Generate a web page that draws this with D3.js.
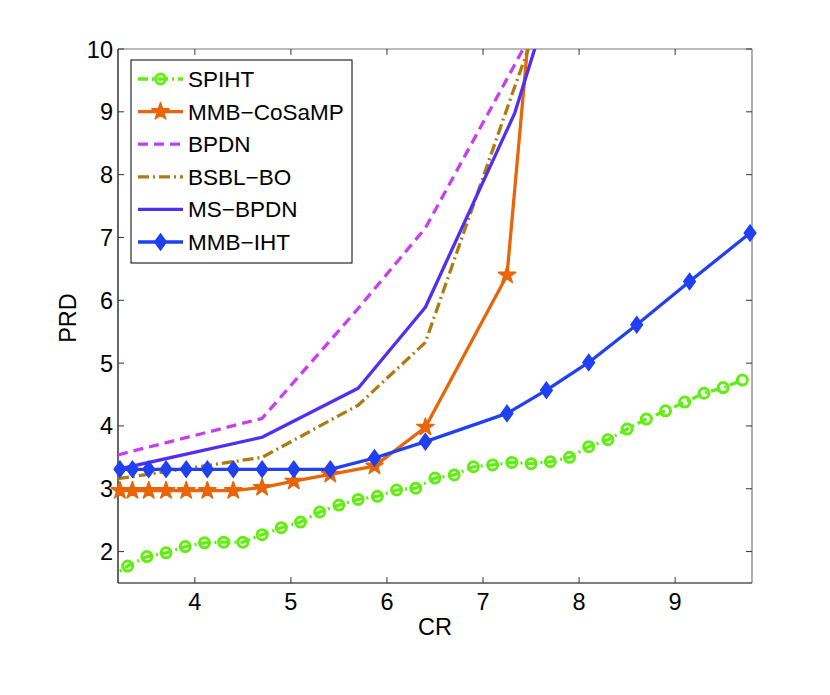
<!DOCTYPE html>
<html>
<head>
<meta charset="utf-8">
<script src="https://cdn.jsdelivr.net/npm/d3@7/dist/d3.min.js"></script>
<style>
  html, body { margin: 0; padding: 0; background: #fff; }
  svg { display: block; }
  text { font-family: "Liberation Sans", Arial, Helvetica, sans-serif; fill: #000; }
</style>
</head>
<body>
<svg id="chart" width="830" height="695"></svg>
<script>
// ---------------- data ----------------
const xTicks = [4, 5, 6, 7, 8, 9];
const yTicks = [2, 3, 4, 5, 6, 7, 8, 9, 10];

const crSPIHT = [3.1, 3.3, 3.5, 3.7, 3.9, 4.1, 4.3, 4.5, 4.7, 4.9, 5.1, 5.3, 5.5, 5.7, 5.9, 6.1, 6.3,
                 6.5, 6.7, 6.9, 7.1, 7.3, 7.5, 7.7, 7.9, 8.1, 8.3, 8.5, 8.7, 8.9, 9.1, 9.3, 9.5, 9.7];
const prdSPIHT = [1.56, 1.77, 1.92, 1.98, 2.08, 2.14, 2.15, 2.15, 2.27, 2.38, 2.47, 2.63, 2.74, 2.83, 2.88, 2.98, 3.01,
                  3.17, 3.22, 3.35, 3.38, 3.42, 3.40, 3.43, 3.50, 3.67, 3.78, 3.95, 4.11, 4.24, 4.38, 4.52, 4.61, 4.73];

const crMMB = [3.22, 3.35, 3.52, 3.70, 3.91, 4.13, 4.40, 4.70, 5.03, 5.41, 5.87, 6.40, 7.25, 7.66, 8.10, 8.60, 9.15, 9.78];
const prdCoSaMP = [2.97, 2.97, 2.97, 2.97, 2.97, 2.97, 2.97, 3.02, 3.12, 3.23, 3.36, 3.98, 6.40, 13.4];
const prdIHT = [3.31, 3.31, 3.31, 3.31, 3.31, 3.31, 3.31, 3.31, 3.31, 3.31, 3.49, 3.75, 4.20, 4.57, 5.01, 5.61, 6.30, 7.07];

const crBP = [3.2, 4.7, 5.7, 6.4, 7.33, 7.66];
const prdBPDN = [3.54, 4.12, 5.87, 7.15, 9.75, 10.7];
const prdBSBL = [3.16, 3.50, 4.33, 5.33, 9.40, 10.8];
const prdMSBPDN = [3.31, 3.82, 4.60, 5.89, 8.98, 10.6];

const seriesNames = ["SPIHT", "MMB\u2212CoSaMP", "BPDN", "BSBL\u2212BO", "MS\u2212BPDN", "MMB\u2212IHT"];

// ---------------- layout ----------------
const svg = d3.select("#chart");
const L = 118, R = 752, T = 49, B = 583;
const x = d3.scaleLinear().domain([3.2, 9.8]).range([L, R]);
const y = d3.scaleLinear().domain([1.5, 10]).range([B, T]);

const zip = (xs, ys) => ys.map((v, i) => [xs[i], v]);

const series = [
  { name: seriesNames[0], pts: zip(crSPIHT, prdSPIHT), color: "#62ee12", width: 3.3, dash: "10,4,2,4", marker: "circle" },
  { name: seriesNames[1], pts: zip(crMMB, prdCoSaMP), color: "#e8650a", width: 3.3, dash: null, marker: "star" },
  { name: seriesNames[2], pts: zip(crBP, prdBPDN), color: "#c63ff2", width: 3.3, dash: "10,6", marker: null },
  { name: seriesNames[3], pts: zip(crBP, prdBSBL), color: "#b07a12", width: 3.3, dash: "11,4,2,4", marker: null },
  { name: seriesNames[4], pts: zip(crBP, prdMSBPDN), color: "#4f2ff2", width: 3.3, dash: null, marker: null },
  { name: seriesNames[5], pts: zip(crMMB, prdIHT), color: "#2040f2", width: 3.3, dash: null, marker: "diamond" }
];

svg.append("defs").append("clipPath").attr("id", "plotclip")
  .append("rect").attr("x", L).attr("y", T).attr("width", R - L).attr("height", B - T);

// axes box & ticks
const ax = svg.append("g");
ax.append("line").attr("x1", L).attr("x2", R).attr("y1", T).attr("y2", T).attr("stroke", "#777").attr("stroke-width", 1.2);
ax.append("line").attr("x1", R).attr("x2", R).attr("y1", T).attr("y2", B).attr("stroke", "#777").attr("stroke-width", 1.2);
ax.append("line").attr("x1", L).attr("x2", R).attr("y1", B).attr("y2", B).attr("stroke", "#000").attr("stroke-width", 1.2);
ax.append("line").attr("x1", L).attr("x2", L).attr("y1", T).attr("y2", B).attr("stroke", "#000").attr("stroke-width", 1.2);

const tl = 6;
xTicks.forEach(t => {
  const px = x(t);
  ax.append("line").attr("x1", px).attr("x2", px).attr("y1", B).attr("y2", B - tl).attr("stroke", "#333");
  ax.append("line").attr("x1", px).attr("x2", px).attr("y1", T).attr("y2", T + tl).attr("stroke", "#333");
  ax.append("text").attr("x", px).attr("y", B + 27).attr("text-anchor", "middle")
    .style("font-size", "23.5px").text(t);
});
yTicks.forEach(t => {
  const py = y(t);
  ax.append("line").attr("x1", L).attr("x2", L + tl).attr("y1", py).attr("y2", py).attr("stroke", "#333");
  ax.append("line").attr("x1", R).attr("x2", R - tl).attr("y1", py).attr("y2", py).attr("stroke", "#333");
  ax.append("text").attr("x", L - 5).attr("y", py + 8.5).attr("text-anchor", "end")
    .style("font-size", "23.5px").text(t);
});

svg.append("text").attr("x", (L + R) / 2).attr("y", 635).attr("text-anchor", "middle")
  .style("font-size", "23.5px").text("CR");
svg.append("text").attr("transform", `translate(76,${(T + B) / 2 + 2}) rotate(-90)`).attr("text-anchor", "middle")
  .style("font-size", "23.5px").text("PRD");

// markers
const starPath = d3.symbol().type(d3.symbolStar).size(92)();
const diamondPath = "M0,-8L5.8,0L0,8L-5.8,0Z";
function drawMarker(g, kind, color, px, py) {
  if (kind === "circle") {
    g.append("circle").attr("cx", px).attr("cy", py).attr("r", 5)
      .attr("fill", "none").attr("stroke", color).attr("stroke-width", 3);
  } else if (kind === "star") {
    g.append("path").attr("d", starPath).attr("transform", `translate(${px},${py})`)
      .attr("fill", color).attr("stroke", color).attr("stroke-width", 1.5).attr("stroke-linejoin", "round");
  } else if (kind === "diamond") {
    g.append("path").attr("d", diamondPath).attr("transform", `translate(${px},${py})`)
      .attr("fill", color).attr("stroke", color).attr("stroke-width", 1.5);
  }
}

const line = d3.line().x(d => x(d[0])).y(d => y(d[1]));
const plot = svg.append("g");
series.forEach(s => {
  plot.append("path").datum(s.pts).attr("d", line)
    .attr("clip-path", "url(#plotclip)")
    .attr("fill", "none").attr("stroke", s.color).attr("stroke-width", s.width)
    .attr("stroke-dasharray", s.dash).attr("stroke-linejoin", "round");
  if (s.marker) {
    const mg = plot.append("g");
    s.pts.forEach(d => {
      if (d[0] >= 3.2 && d[0] <= 9.8 && d[1] >= 1.5 && d[1] <= 10) drawMarker(mg, s.marker, s.color, x(d[0]), y(d[1]));
    });
  }
});

// legend
const lg = svg.append("g");
lg.append("rect").attr("x", 131).attr("y", 60).attr("width", 221).attr("height", 203)
  .attr("fill", "#fff").attr("stroke", "#000").attr("stroke-width", 1);
series.forEach((s, i) => {
  const ly = 79 + i * 32.6;
  lg.append("line").attr("x1", 138).attr("x2", 183).attr("y1", ly).attr("y2", ly)
    .attr("stroke", s.color).attr("stroke-width", s.width).attr("stroke-dasharray", s.dash);
  if (s.marker) drawMarker(lg, s.marker, s.color, 160.5, ly);
  lg.append("text").attr("x", 188).attr("y", ly + 8).style("font-size", "22.5px").text(s.name);
});
</script>
</body>
</html>
